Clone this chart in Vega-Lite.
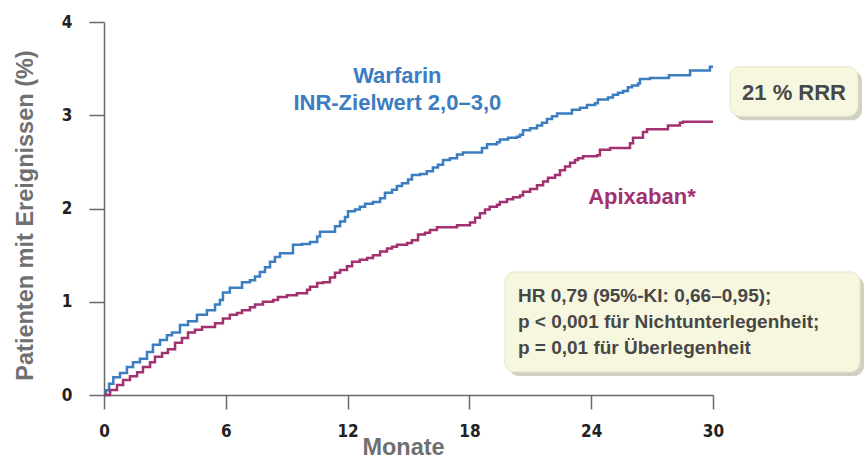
{
  "$schema": "https://vega.github.io/schema/vega-lite/v6.json",
  "width": 609,
  "height": 373,
  "autosize": {"type": "none"},
  "padding": {"left": 104, "top": 22, "right": 153, "bottom": 64},
  "background": "white",
  "config": {
    "font": "Liberation Sans",
    "view": {"stroke": null},
    "axis": {
      "grid": false,
      "domainColor": "#6a6a6a",
      "domainWidth": 1.5,
      "tickColor": "#6a6a6a",
      "tickWidth": 1.5,
      "labelFont": "Liberation Sans Narrow, DejaVu Sans Condensed, Liberation Sans",
      "labelFontWeight": "bold",
      "labelFontSize": 17,
      "labelColor": "#222222",
      "labelFlush": false,
      "titleFont": "Liberation Sans",
      "titleFontWeight": "bold",
      "titleFontSize": 23.5,
      "titleColor": "#707070"
    }
  },
  "datasets": {
    "curves": [
      {"m": 0, "p": 0, "g": "Warfarin"},
      {"m": 0.1, "p": 0.05, "g": "Warfarin"},
      {"m": 0.25, "p": 0.12, "g": "Warfarin"},
      {"m": 0.46, "p": 0.19, "g": "Warfarin"},
      {"m": 0.79, "p": 0.235, "g": "Warfarin"},
      {"m": 1.13, "p": 0.3, "g": "Warfarin"},
      {"m": 1.43, "p": 0.35, "g": "Warfarin"},
      {"m": 1.77, "p": 0.39, "g": "Warfarin"},
      {"m": 2.12, "p": 0.46, "g": "Warfarin"},
      {"m": 2.41, "p": 0.54, "g": "Warfarin"},
      {"m": 2.76, "p": 0.59, "g": "Warfarin"},
      {"m": 3.1, "p": 0.64, "g": "Warfarin"},
      {"m": 3.35, "p": 0.67, "g": "Warfarin"},
      {"m": 3.74, "p": 0.75, "g": "Warfarin"},
      {"m": 4.14, "p": 0.79, "g": "Warfarin"},
      {"m": 4.58, "p": 0.86, "g": "Warfarin"},
      {"m": 5.07, "p": 0.91, "g": "Warfarin"},
      {"m": 5.47, "p": 0.97, "g": "Warfarin"},
      {"m": 5.71, "p": 1.02, "g": "Warfarin"},
      {"m": 5.86, "p": 1.1, "g": "Warfarin"},
      {"m": 6.2, "p": 1.15, "g": "Warfarin"},
      {"m": 6.8, "p": 1.21, "g": "Warfarin"},
      {"m": 7.19, "p": 1.23, "g": "Warfarin"},
      {"m": 7.44, "p": 1.27, "g": "Warfarin"},
      {"m": 7.68, "p": 1.32, "g": "Warfarin"},
      {"m": 7.93, "p": 1.37, "g": "Warfarin"},
      {"m": 8.18, "p": 1.43, "g": "Warfarin"},
      {"m": 8.42, "p": 1.48, "g": "Warfarin"},
      {"m": 8.67, "p": 1.52, "g": "Warfarin"},
      {"m": 9.31, "p": 1.61, "g": "Warfarin"},
      {"m": 9.75, "p": 1.62, "g": "Warfarin"},
      {"m": 10.15, "p": 1.64, "g": "Warfarin"},
      {"m": 10.5, "p": 1.7, "g": "Warfarin"},
      {"m": 10.64, "p": 1.75, "g": "Warfarin"},
      {"m": 11.38, "p": 1.81, "g": "Warfarin"},
      {"m": 11.63, "p": 1.86, "g": "Warfarin"},
      {"m": 11.87, "p": 1.91, "g": "Warfarin"},
      {"m": 12.02, "p": 1.97, "g": "Warfarin"},
      {"m": 12.36, "p": 1.99, "g": "Warfarin"},
      {"m": 12.6, "p": 2.02, "g": "Warfarin"},
      {"m": 12.86, "p": 2.05, "g": "Warfarin"},
      {"m": 13.25, "p": 2.07, "g": "Warfarin"},
      {"m": 13.6, "p": 2.11, "g": "Warfarin"},
      {"m": 13.84, "p": 2.17, "g": "Warfarin"},
      {"m": 14.19, "p": 2.2, "g": "Warfarin"},
      {"m": 14.43, "p": 2.24, "g": "Warfarin"},
      {"m": 14.68, "p": 2.27, "g": "Warfarin"},
      {"m": 14.98, "p": 2.31, "g": "Warfarin"},
      {"m": 15.17, "p": 2.36, "g": "Warfarin"},
      {"m": 15.57, "p": 2.37, "g": "Warfarin"},
      {"m": 15.9, "p": 2.4, "g": "Warfarin"},
      {"m": 16.2, "p": 2.44, "g": "Warfarin"},
      {"m": 16.45, "p": 2.47, "g": "Warfarin"},
      {"m": 16.7, "p": 2.52, "g": "Warfarin"},
      {"m": 17.04, "p": 2.54, "g": "Warfarin"},
      {"m": 17.39, "p": 2.58, "g": "Warfarin"},
      {"m": 17.68, "p": 2.6, "g": "Warfarin"},
      {"m": 18.62, "p": 2.65, "g": "Warfarin"},
      {"m": 18.87, "p": 2.69, "g": "Warfarin"},
      {"m": 19.36, "p": 2.71, "g": "Warfarin"},
      {"m": 19.5, "p": 2.74, "g": "Warfarin"},
      {"m": 19.9, "p": 2.76, "g": "Warfarin"},
      {"m": 20.34, "p": 2.77, "g": "Warfarin"},
      {"m": 20.49, "p": 2.79, "g": "Warfarin"},
      {"m": 20.64, "p": 2.84, "g": "Warfarin"},
      {"m": 20.99, "p": 2.86, "g": "Warfarin"},
      {"m": 21.33, "p": 2.89, "g": "Warfarin"},
      {"m": 21.58, "p": 2.92, "g": "Warfarin"},
      {"m": 21.82, "p": 2.96, "g": "Warfarin"},
      {"m": 22.07, "p": 2.99, "g": "Warfarin"},
      {"m": 22.32, "p": 3.02, "g": "Warfarin"},
      {"m": 23.05, "p": 3.06, "g": "Warfarin"},
      {"m": 23.45, "p": 3.08, "g": "Warfarin"},
      {"m": 23.79, "p": 3.11, "g": "Warfarin"},
      {"m": 24.19, "p": 3.13, "g": "Warfarin"},
      {"m": 24.33, "p": 3.17, "g": "Warfarin"},
      {"m": 24.83, "p": 3.19, "g": "Warfarin"},
      {"m": 25.07, "p": 3.22, "g": "Warfarin"},
      {"m": 25.32, "p": 3.24, "g": "Warfarin"},
      {"m": 25.57, "p": 3.26, "g": "Warfarin"},
      {"m": 25.81, "p": 3.3, "g": "Warfarin"},
      {"m": 26.01, "p": 3.32, "g": "Warfarin"},
      {"m": 26.31, "p": 3.34, "g": "Warfarin"},
      {"m": 26.4, "p": 3.39, "g": "Warfarin"},
      {"m": 26.9, "p": 3.4, "g": "Warfarin"},
      {"m": 27.83, "p": 3.43, "g": "Warfarin"},
      {"m": 28.87, "p": 3.48, "g": "Warfarin"},
      {"m": 29.85, "p": 3.52, "g": "Warfarin"},
      {"m": 30, "p": 3.52, "g": "Warfarin"},
      {"m": 0, "p": 0, "g": "Apixaban"},
      {"m": 0.3, "p": 0.054, "g": "Apixaban"},
      {"m": 0.64, "p": 0.107, "g": "Apixaban"},
      {"m": 0.94, "p": 0.16, "g": "Apixaban"},
      {"m": 1.28, "p": 0.2, "g": "Apixaban"},
      {"m": 1.63, "p": 0.245, "g": "Apixaban"},
      {"m": 1.92, "p": 0.3, "g": "Apixaban"},
      {"m": 2.27, "p": 0.35, "g": "Apixaban"},
      {"m": 2.51, "p": 0.41, "g": "Apixaban"},
      {"m": 2.86, "p": 0.45, "g": "Apixaban"},
      {"m": 3.15, "p": 0.49, "g": "Apixaban"},
      {"m": 3.5, "p": 0.56, "g": "Apixaban"},
      {"m": 3.84, "p": 0.61, "g": "Apixaban"},
      {"m": 4.14, "p": 0.67, "g": "Apixaban"},
      {"m": 4.48, "p": 0.7, "g": "Apixaban"},
      {"m": 4.83, "p": 0.73, "g": "Apixaban"},
      {"m": 5.47, "p": 0.77, "g": "Apixaban"},
      {"m": 5.86, "p": 0.82, "g": "Apixaban"},
      {"m": 6.2, "p": 0.86, "g": "Apixaban"},
      {"m": 6.55, "p": 0.88, "g": "Apixaban"},
      {"m": 6.8, "p": 0.91, "g": "Apixaban"},
      {"m": 7.19, "p": 0.94, "g": "Apixaban"},
      {"m": 7.44, "p": 0.97, "g": "Apixaban"},
      {"m": 7.83, "p": 1.0, "g": "Apixaban"},
      {"m": 8.33, "p": 1.02, "g": "Apixaban"},
      {"m": 8.57, "p": 1.05, "g": "Apixaban"},
      {"m": 9.01, "p": 1.07, "g": "Apixaban"},
      {"m": 9.5, "p": 1.09, "g": "Apixaban"},
      {"m": 10.0, "p": 1.13, "g": "Apixaban"},
      {"m": 10.15, "p": 1.16, "g": "Apixaban"},
      {"m": 10.5, "p": 1.2, "g": "Apixaban"},
      {"m": 10.79, "p": 1.21, "g": "Apixaban"},
      {"m": 11.13, "p": 1.26, "g": "Apixaban"},
      {"m": 11.38, "p": 1.31, "g": "Apixaban"},
      {"m": 11.63, "p": 1.34, "g": "Apixaban"},
      {"m": 11.97, "p": 1.38, "g": "Apixaban"},
      {"m": 12.22, "p": 1.43, "g": "Apixaban"},
      {"m": 12.6, "p": 1.45, "g": "Apixaban"},
      {"m": 12.96, "p": 1.47, "g": "Apixaban"},
      {"m": 13.25, "p": 1.5, "g": "Apixaban"},
      {"m": 13.6, "p": 1.54, "g": "Apixaban"},
      {"m": 13.94, "p": 1.57, "g": "Apixaban"},
      {"m": 14.19, "p": 1.59, "g": "Apixaban"},
      {"m": 14.43, "p": 1.61, "g": "Apixaban"},
      {"m": 14.93, "p": 1.63, "g": "Apixaban"},
      {"m": 15.17, "p": 1.66, "g": "Apixaban"},
      {"m": 15.47, "p": 1.72, "g": "Apixaban"},
      {"m": 15.81, "p": 1.74, "g": "Apixaban"},
      {"m": 16.06, "p": 1.77, "g": "Apixaban"},
      {"m": 16.4, "p": 1.8, "g": "Apixaban"},
      {"m": 17.39, "p": 1.82, "g": "Apixaban"},
      {"m": 18.03, "p": 1.85, "g": "Apixaban"},
      {"m": 18.28, "p": 1.9, "g": "Apixaban"},
      {"m": 18.52, "p": 1.95, "g": "Apixaban"},
      {"m": 18.77, "p": 1.99, "g": "Apixaban"},
      {"m": 19.0, "p": 2.02, "g": "Apixaban"},
      {"m": 19.36, "p": 2.04, "g": "Apixaban"},
      {"m": 19.5, "p": 2.07, "g": "Apixaban"},
      {"m": 19.85, "p": 2.1, "g": "Apixaban"},
      {"m": 20.15, "p": 2.12, "g": "Apixaban"},
      {"m": 20.49, "p": 2.14, "g": "Apixaban"},
      {"m": 20.64, "p": 2.18, "g": "Apixaban"},
      {"m": 20.99, "p": 2.21, "g": "Apixaban"},
      {"m": 21.33, "p": 2.25, "g": "Apixaban"},
      {"m": 21.63, "p": 2.29, "g": "Apixaban"},
      {"m": 21.87, "p": 2.33, "g": "Apixaban"},
      {"m": 22.22, "p": 2.36, "g": "Apixaban"},
      {"m": 22.46, "p": 2.41, "g": "Apixaban"},
      {"m": 22.71, "p": 2.45, "g": "Apixaban"},
      {"m": 22.96, "p": 2.49, "g": "Apixaban"},
      {"m": 23.2, "p": 2.52, "g": "Apixaban"},
      {"m": 23.35, "p": 2.54, "g": "Apixaban"},
      {"m": 23.6, "p": 2.56, "g": "Apixaban"},
      {"m": 24.29, "p": 2.57, "g": "Apixaban"},
      {"m": 24.43, "p": 2.63, "g": "Apixaban"},
      {"m": 24.93, "p": 2.65, "g": "Apixaban"},
      {"m": 25.91, "p": 2.7, "g": "Apixaban"},
      {"m": 26.06, "p": 2.76, "g": "Apixaban"},
      {"m": 26.55, "p": 2.82, "g": "Apixaban"},
      {"m": 26.75, "p": 2.85, "g": "Apixaban"},
      {"m": 27.78, "p": 2.89, "g": "Apixaban"},
      {"m": 28.37, "p": 2.92, "g": "Apixaban"},
      {"m": 28.52, "p": 2.93, "g": "Apixaban"},
      {"m": 30, "p": 2.93, "g": "Apixaban"}
    ],
    "boxes": [
      {"m": 30.84, "m2": 37.14, "p": 3.52, "p2": 2.99},
      {"m": 19.75, "m2": 37.24, "p": 1.32, "p2": 0.247}
    ],
    "labels": [
      {"m": 14.45, "p": 3.42, "t": "Warfarin", "g": "Warfarin"},
      {"m": 14.45, "p": 3.13, "t": "INR-Zielwert 2,0–3,0", "g": "Warfarin"},
      {"m": 26.5, "p": 2.12, "t": "Apixaban*", "g": "Apixaban"}
    ],
    "boxtext1": [
      {"m": 33.99, "p": 3.24, "t": "21 % RRR"}
    ],
    "boxtext2": [
      {"m": 20.39, "p": 1.062, "t": "HR 0,79 (95%-KI: 0,66–0,95);"},
      {"m": 20.39, "p": 0.783, "t": "p < 0,001 für Nichtunterlegenheit;"},
      {"m": 20.39, "p": 0.504, "t": "p = 0,01 für Überlegenheit"}
    ]
  },
  "encoding": {
    "x": {
      "field": "m",
      "type": "quantitative",
      "scale": {"domain": [0, 30], "nice": false, "zero": false},
      "axis": {
        "title": "Monate",
        "values": [0, 6, 12, 18, 24, 30],
        "tickSize": 14,
        "labelPadding": 14,
        "titleBaseline": "alphabetic",
        "titleY": 59,
        "titleX": 299
      }
    },
    "y": {
      "field": "p",
      "type": "quantitative",
      "scale": {"domain": [0, 4], "nice": false},
      "axis": {
        "title": "Patienten mit Ereignissen (%)",
        "values": [0, 1, 2, 3, 4],
        "tickSize": 15,
        "labelPadding": 17,
        "titleBaseline": "alphabetic",
        "titleAngle": -90,
        "titleX": -72,
        "titleY": 193,
        "titleAlign": "center"
      }
    }
  },
  "layer": [
    {
      "data": {"name": "boxes"},
      "mark": {"type": "rect", "fill": "#a9a990", "opacity": 0.55, "cornerRadius": 10, "xOffset": 4, "x2Offset": 4, "yOffset": 4, "y2Offset": 4},
      "encoding": {"x2": {"field": "m2"}, "y2": {"field": "p2"}}
    },
    {
      "data": {"name": "boxes"},
      "mark": {"type": "rect", "fill": "#f7f7df", "stroke": "#e6e6c8", "strokeWidth": 1, "cornerRadius": 10},
      "encoding": {"x2": {"field": "m2"}, "y2": {"field": "p2"}}
    },
    {
      "data": {"name": "curves"},
      "mark": {"type": "line", "interpolate": "step-after", "strokeWidth": 2.5},
      "encoding": {
        "color": {
          "field": "g",
          "type": "nominal",
          "scale": {"domain": ["Warfarin", "Apixaban"], "range": ["#3b7dc0", "#a3306f"]},
          "legend": null
        }
      }
    },
    {
      "data": {"name": "labels"},
      "mark": {"type": "text", "fontSize": 22, "fontWeight": "bold", "align": "center", "baseline": "middle"},
      "encoding": {
        "text": {"field": "t"},
        "color": {"field": "g", "type": "nominal", "legend": null}
      }
    },
    {
      "data": {"name": "boxtext1"},
      "mark": {"type": "text", "fontSize": 22, "fontWeight": "bold", "align": "center", "baseline": "middle", "color": "#474747"},
      "encoding": {"text": {"field": "t"}}
    },
    {
      "data": {"name": "boxtext2"},
      "mark": {"type": "text", "fontSize": 19, "fontWeight": "bold", "align": "left", "baseline": "middle", "color": "#474747"},
      "encoding": {"text": {"field": "t"}}
    }
  ]
}
